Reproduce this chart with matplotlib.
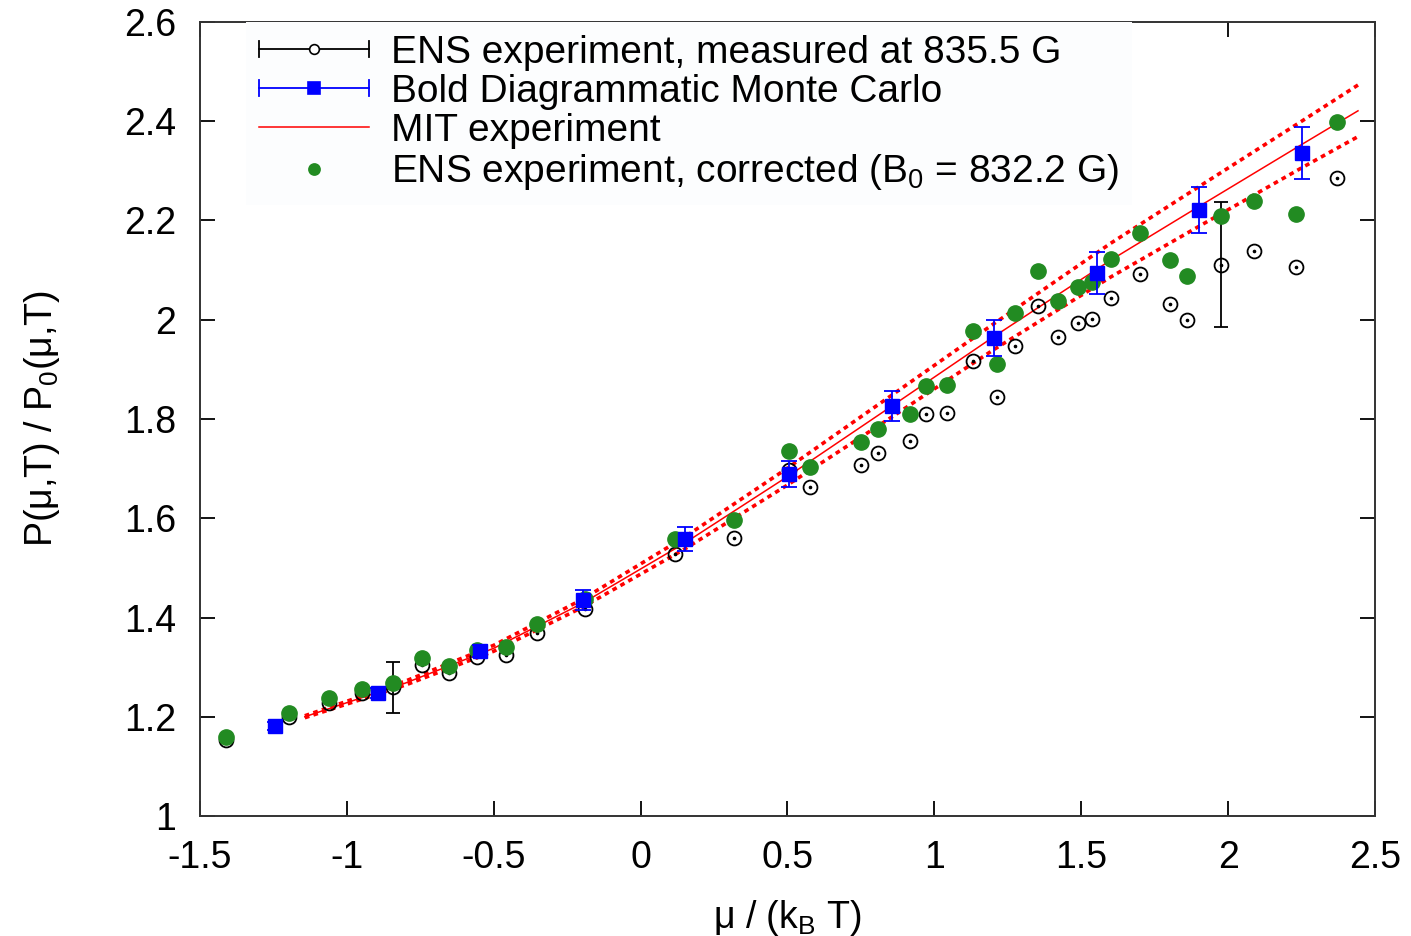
import numpy as np
import matplotlib
matplotlib.use("Agg")
import matplotlib.pyplot as plt
from matplotlib.lines import Line2D
from matplotlib.legend_handler import HandlerBase

plt.rcParams["font.family"] = ["Liberation Sans", "DejaVu Sans"]
plt.rcParams["mathtext.fontset"] = "custom"
plt.rcParams["mathtext.rm"] = "Liberation Sans"
plt.rcParams["mathtext.it"] = "Liberation Sans"
plt.rcParams["axes.unicode_minus"] = False

# ENS experiment (measured at 835.5 G) and the corrected set share the same mu values
ens_mu = [-1.411, -1.197, -1.060, -0.948, -0.843, -0.744, -0.652, -0.557, -0.459, -0.353,
          -0.188, 0.117, 0.318, 0.505, 0.577, 0.750, 0.808, 0.917, 0.972, 1.043,
          1.132, 1.213, 1.274, 1.352, 1.421, 1.489, 1.536, 1.601, 1.700, 1.802,
          1.860, 1.976, 2.088, 2.231, 2.371]
ens_meas = [1.153, 1.200, 1.228, 1.248, 1.259, 1.304, 1.288, 1.320, 1.324, 1.369,
            1.417, 1.528, 1.560, 1.697, 1.663, 1.707, 1.731, 1.756, 1.810, 1.812,
            1.917, 1.845, 1.947, 2.028, 1.966, 1.993, 2.002, 2.044, 2.092, 2.032,
            2.000, 2.111, 2.138, 2.106, 2.286]
# only two of the measured points carry an error bar
ens_err = [np.nan] * 4 + [0.051] + [np.nan] * 26 + [0.126] + [np.nan] * 3
ens_corr = [1.159, 1.208, 1.238, 1.256, 1.268, 1.318, 1.302, 1.334, 1.341, 1.387,
            1.437, 1.558, 1.596, 1.735, 1.703, 1.754, 1.780, 1.810, 1.866, 1.868,
            1.977, 1.911, 2.014, 2.098, 2.037, 2.066, 2.076, 2.122, 2.175, 2.120,
            2.088, 2.209, 2.239, 2.213, 2.398]

# Bold Diagrammatic Monte Carlo
bdmc_mu = [-1.245, -0.894, -0.547, -0.196, 0.151, 0.505, 0.855, 1.203, 1.553, 1.901, 2.251]
bdmc_p = [1.181, 1.248, 1.333, 1.435, 1.558, 1.689, 1.826, 1.963, 2.094, 2.221, 2.336]
bdmc_err = [0.008, 0.010, 0.012, 0.020, 0.024, 0.027, 0.030, 0.037, 0.042, 0.047, 0.053]

# MIT equation of state with its uncertainty band
mit_mu = [-1.143, -0.8, -0.5, -0.2, 0.15, 0.5, 0.855, 1.2, 1.6, 1.9, 2.25, 2.442]
mit_p = [1.200, 1.268, 1.338, 1.428, 1.550, 1.684, 1.826, 1.965, 2.120, 2.228, 2.353, 2.421]
mit_band = [0.002, 0.004, 0.006, 0.008, 0.012, 0.017, 0.022, 0.026, 0.034, 0.040, 0.047, 0.052]

mit_lo = np.array(mit_p) - np.array(mit_band)
mit_hi = np.array(mit_p) + np.array(mit_band)

green = "#228b22"


class HandlerCapLine(HandlerBase):
    """gnuplot-style key sample: horizontal bar with end caps and a centred point."""

    def __init__(self, color, marker=None, mfc=None, ms=8, caps=True, line=True, lw=1.3):
        super().__init__()
        self.color, self.marker, self.mfc, self.ms = color, marker, mfc, ms
        self.caps, self.line, self.lw = caps, line, lw

    def create_artists(self, legend, orig_handle, xdescent, ydescent, width, height, fontsize, trans):
        y = (height - ydescent) / 2
        x0, x1 = -xdescent, width - xdescent
        arts = []
        if self.line:
            arts.append(Line2D([x0, x1], [y, y], color=self.color, lw=self.lw))
        if self.caps:
            h = 0.3 * height
            arts.append(Line2D([x0, x0], [y - h, y + h], color=self.color, lw=self.lw))
            arts.append(Line2D([x1, x1], [y - h, y + h], color=self.color, lw=self.lw))
        if self.marker:
            arts.append(Line2D([(x0 + x1) / 2], [y], ls="none", marker=self.marker,
                               ms=self.ms, mfc=self.mfc, mec=self.color, mew=1.2))
        for a in arts:
            a.set_transform(trans)
        return arts


fig = plt.figure(figsize=(14.11, 9.36), dpi=100)
ax = fig.add_axes([0.1417, 0.1282, 0.8328, 0.8483])

# MIT curve: solid centre line, dotted error envelope
ax.plot(mit_mu, mit_p, color="red", lw=1.1, zorder=1)
ax.plot(mit_mu, mit_hi, color="red", lw=2.6, ls=(0, (1.3, 1.2)), zorder=1)
ax.plot(mit_mu, mit_lo, color="red", lw=2.6, ls=(0, (1.3, 1.2)), zorder=1)

# ENS measured: open circles with a dot in the middle
ax.errorbar(ens_mu, ens_meas, yerr=ens_err, fmt="o", ms=10, mfc="none", mec="black",
            mew=1.3, ecolor="black", elinewidth=1.3, capsize=5, capthick=1.3, zorder=2)
ax.plot(ens_mu, ens_meas, ls="none", marker="o", ms=1.6, color="black", zorder=2)

ax.plot(ens_mu, ens_corr, ls="none", marker="o", ms=11, color=green, mec=green, zorder=3)

ax.errorbar(bdmc_mu, bdmc_p, yerr=bdmc_err, fmt="s", ms=10, mfc="blue", mec="blue",
            ecolor="blue", elinewidth=1.3, capsize=5.5, capthick=1.3, zorder=4)

ax.set_xlim(-1.5, 2.5)
ax.set_ylim(1, 2.6)
ax.set_xticks(np.arange(-1.5, 2.51, 0.5))
ax.set_yticks(np.arange(1.0, 2.61, 0.2))
ax.xaxis.set_major_formatter(lambda v, p: "%g" % round(v, 2))
ax.yaxis.set_major_formatter(lambda v, p: "%g" % round(v, 2))
ax.tick_params(direction="in", length=11, width=1.3, top=True, right=True,
               labelsize=27, pad=17)
for s in ax.spines.values():
    s.set_linewidth(1.4)
    s.set_color("#333333")

ax.set_xlabel("μ / (k$_\\mathrm{B}$ T)", fontsize=27, labelpad=16)
ax.set_ylabel("P(μ,T) / P$_0$(μ,T)", fontsize=27, labelpad=45)

proxies = [Line2D([], []) for _ in range(4)]
labels = ["ENS experiment, measured at 835.5 G",
          "Bold Diagrammatic Monte Carlo",
          "MIT experiment",
          "ENS experiment, corrected (B$_0$ = 832.2 G)"]
hmap = {
    proxies[0]: HandlerCapLine("black", marker="o", mfc="white", ms=7),
    proxies[1]: HandlerCapLine("blue", marker="s", mfc="blue", ms=8),
    proxies[2]: HandlerCapLine("red", caps=False, lw=1.1),
    proxies[3]: HandlerCapLine(green, marker="o", mfc=green, ms=8, caps=False, line=False),
}
leg = ax.legend(proxies, labels, handler_map=hmap, loc="upper left",
                bbox_to_anchor=(0.039, 1.0), borderaxespad=0, borderpad=0.33,
                fontsize=28, handlelength=2.85, handletextpad=0.55, labelspacing=0.08,
                frameon=True, fancybox=False)
leg.get_frame().set_facecolor("#fcfdfe")
leg.get_frame().set_edgecolor("none")
leg.get_frame().set_alpha(1)

fig.savefig("out.png", dpi=100)
